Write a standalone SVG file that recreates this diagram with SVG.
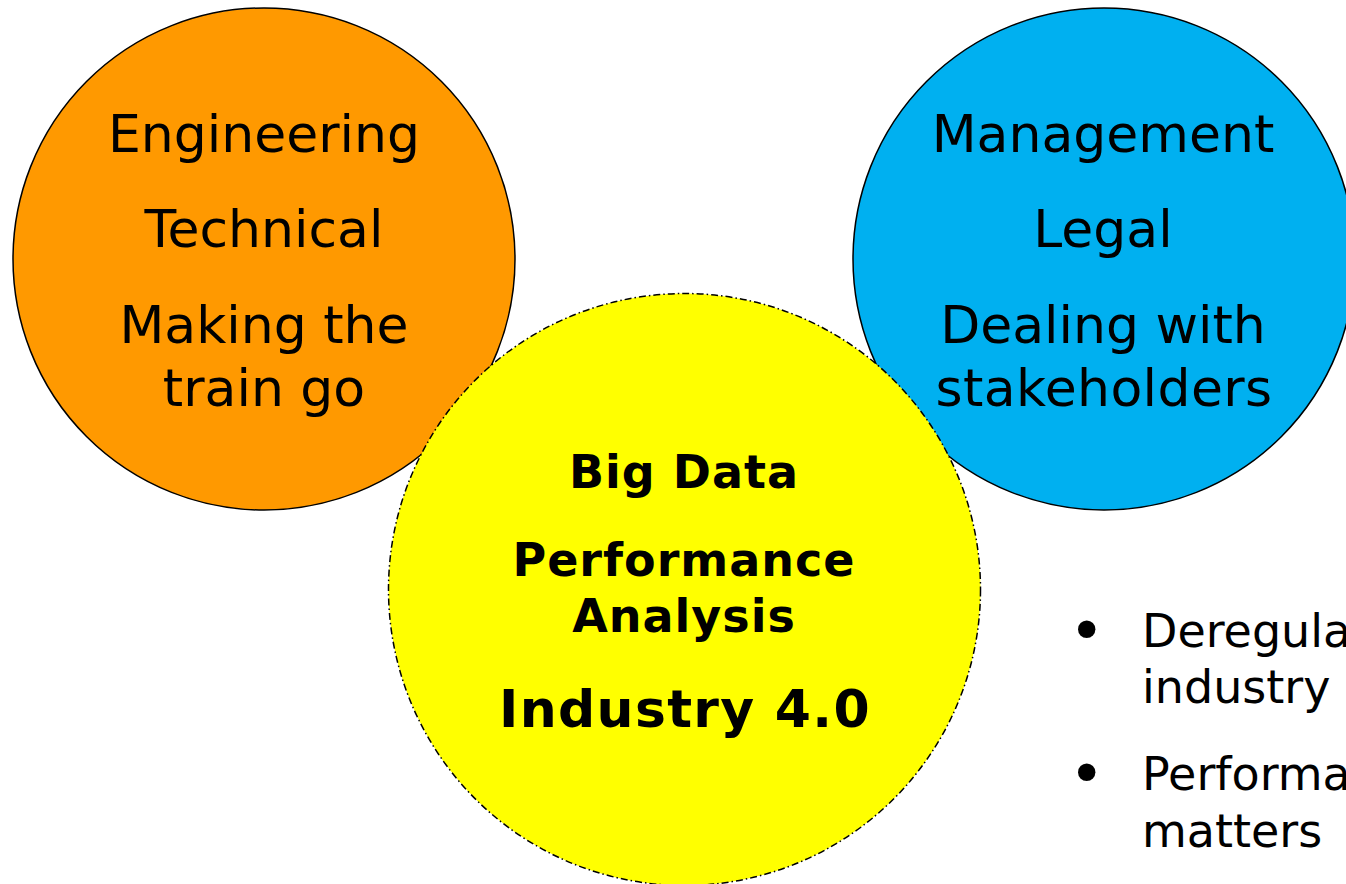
<svg xmlns="http://www.w3.org/2000/svg" width="1346" height="884" viewBox="0 0 1346 884">
<style>
.c{stroke:#000;stroke-width:1.5}
.t{font-family:"DejaVu Sans","Verdana",sans-serif;font-size:52px;fill:#000;text-anchor:middle}
.b{font-family:"DejaVu Sans","Verdana",sans-serif;font-weight:bold;font-size:46px;letter-spacing:1px;fill:#000;text-anchor:middle}
.l{font-family:"DejaVu Sans","Verdana",sans-serif;font-size:46px;fill:#000}
.d{font-family:"DejaVu Sans","Verdana",sans-serif;font-size:60px;fill:#000}
</style>
<rect width="1346" height="884" fill="#fff"/>
<g id="engineering">
<circle class="c" cx="264" cy="259" r="251" fill="#FF9900"/>
<text class="t" x="264" y="152">Engineering</text>
<text class="t" x="264" y="247">Technical</text>
<text class="t" x="264" y="343">Making the</text>
<text class="t" x="264" y="406">train go</text>
</g>
<g id="management">
<circle class="c" cx="1104" cy="259" r="251" fill="#00B0F0"/>
<text class="t" x="1103" y="152">Management</text>
<text class="t" x="1103" y="247">Legal</text>
<text class="t" x="1103" y="343">Dealing with</text>
<text class="t" x="1104" y="406" style="letter-spacing:0.4px">stakeholders</text>
</g>
<g id="bigdata">
<circle cx="684.5" cy="589.5" r="296" fill="#FFFF00" stroke="#000" stroke-width="1.5" stroke-dasharray="7 3 1.5 3"/>
<text class="b" x="684" y="488">Big Data</text>
<text class="b" x="684" y="576">Performance</text>
<text class="b" x="684" y="632">Analysis</text>
<text class="b" x="685" y="727" style="font-size:52px;letter-spacing:1.3px">Industry 4.0</text>
</g>
<g id="bullets">
<text class="d" x="1069" y="652">•</text>
<text class="l" x="1142" y="647">Deregula</text>
<text class="l" x="1142" y="703">industry</text>
<text class="d" x="1069" y="795">•</text>
<text class="l" x="1142" y="790">Performa</text>
<text class="l" x="1142" y="847">matters</text>
</g>
<g id="connectors"></g>
</svg>
